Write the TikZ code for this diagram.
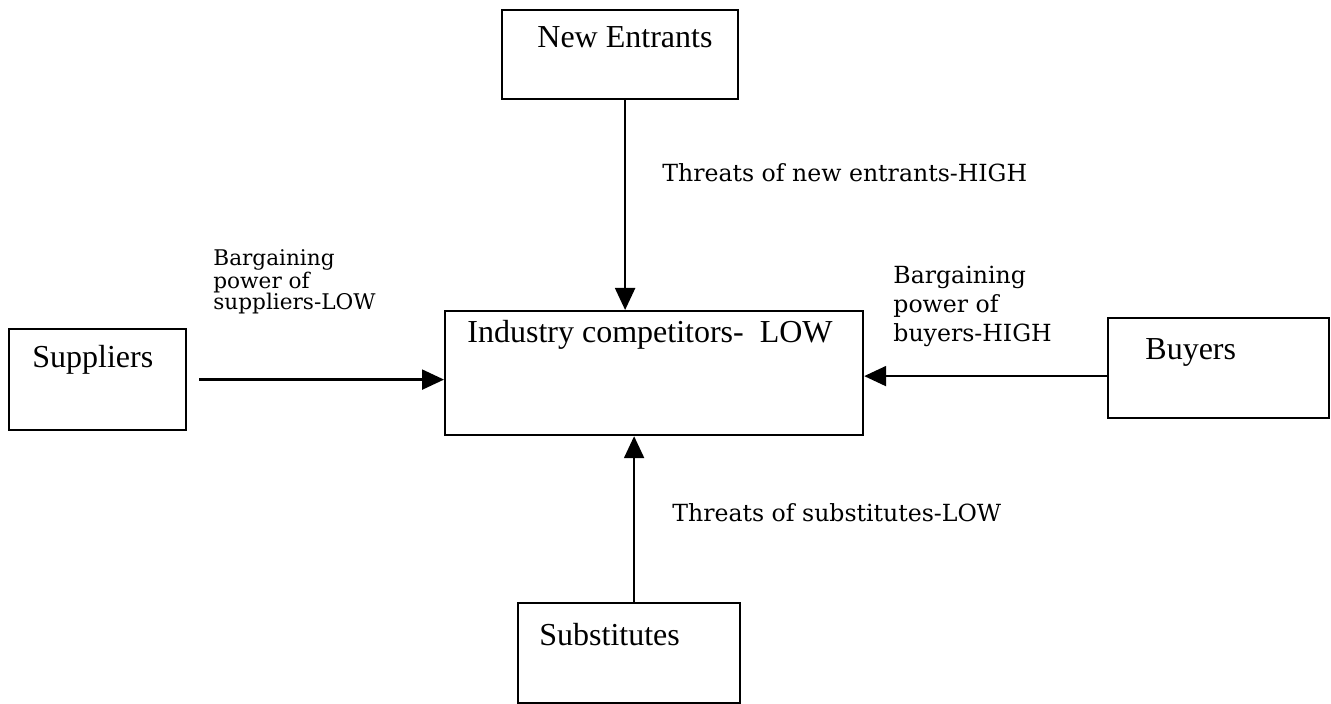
\documentclass[tikz,border=0pt]{standalone}
\usepackage{fontspec}
\setmainfont{Liberation Serif}
\newfontfamily\lblfont{DejaVu Serif}
\usetikzlibrary{arrows.meta,positioning}
\tikzset{
  force/.style={draw, line width=1.1pt, inner sep=0pt, anchor=north west},
  boxtext/.style={inner sep=0pt, anchor=base west, font=\fontsize{16}{19}\selectfont},
  lbl/.style={inner sep=0pt, anchor=base west, align=left, font=\lblfont\fontsize{11.8}{14.5}\selectfont},
  push/.style={line width=1.1pt, -{Triangle[length=11pt,width=10pt]}}
}
\begin{document}
\begin{tikzpicture}[x=0.5pt, y=-0.5pt]
\useasboundingbox (0,0) rectangle (1331,704);
% the five forces
\node[force, minimum width=118pt, minimum height=44.5pt] (ne) at (501,9) {};
\node[force, minimum width=209pt, minimum height=62pt] (ic) at (444,310) {};
\node[force, minimum width=88.5pt, minimum height=50.5pt] (sup) at (8,328) {};
\node[force, minimum width=110.5pt, minimum height=50pt] (buy) at (1107,317) {};
\node[force, minimum width=111pt, minimum height=50pt] (sub) at (517,602) {};
\node[boxtext] (ne-t) at (537,48) {New Entrants};
\node[boxtext] (ic-t) at (467,343) {Industry competitors-~~LOW};
\node[boxtext] (sup-t) at (32,368) {Suppliers};
\node[boxtext] (buy-t) at (1145,360) {Buyers};
\node[boxtext] (sub-t) at (539,645) {Substitutes};
% labels (base = last line)
\node[lbl] (ne-l) at (662,182) {Threats of new entrants-HIGH};
\node[lbl] (sub-l) at (672,522) {Threats of substitutes-LOW};
\node[lbl, font=\lblfont\fontsize{10.8}{10.5}\selectfont] (sup-l) at (213,310) {Bargaining\\power of\\suppliers-LOW};
\node[lbl] (buy-l) at (893,342) {Bargaining\\power of\\buyers-HIGH};
% arrows
\coordinate (ne-out) at ([xshift=2.5pt]ne.south);
\coordinate (sub-out) at ([xshift=2.5pt]sub.north);
\coordinate (buy-out) at ([yshift=-4pt]buy.west);
\draw[push] (ne-out) -- (ne-out |- ic.north);
\draw[push] (sub-out) -- (sub-out |- ic.south);
\draw[push] (sup.east) ++(6pt,0) -- (sup.east -| ic.west);
\draw[push] (buy-out) -- (buy-out -| ic.east);
\end{tikzpicture}
\end{document}
